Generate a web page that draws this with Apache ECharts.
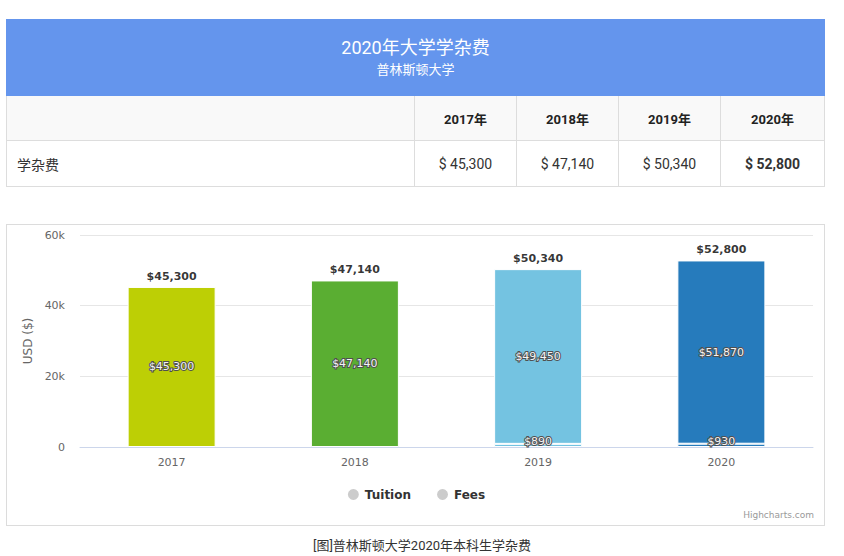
<!DOCTYPE html>
<html>
<head>
<meta charset="utf-8">
<script src="https://cdn.jsdelivr.net/npm/echarts@6/dist/echarts.min.js"></script>
<style>
  html, body { margin:0; padding:0; background:#fff; width:844px; height:556px; overflow:hidden;
    font-family: Roboto, "Noto Sans CJK SC", sans-serif; }
  #tbl { position:absolute; left:6px; top:19px; width:818px; border-collapse:collapse; table-layout:fixed;
    font-family: Roboto, "Noto Sans CJK SC", sans-serif; color:#222; }
  #tbl td, #tbl th { border:1px solid #dddddd; padding:0; }
  #tbl .head { background:#6495ed; color:#fff; text-align:center; height:75px; border-color:#6495ed; }
  #tbl .t1 { font-size:18px; line-height:24px; }
  #tbl .t2 { font-size:13px; line-height:20px; }
  #tbl .hrow th { background:#f9f9f9; height:44px; font-size:13px; font-weight:bold; text-align:center; color:#222; }
  #tbl .drow td { height:45px; font-size:14px; text-align:center; color:#333; }
  #tbl .drow td.first { text-align:left; padding-left:10px; }
  #chartBox { position:absolute; left:6px; top:224px; width:819px; height:302px; box-sizing:border-box; border:1px solid #dcdcdc; }
  #chart { width:817px; height:300px; }
  #caption { position:absolute; left:0; top:535px; width:844px; text-align:center; font-size:13px; color:#333;
    font-family: Roboto, "Noto Sans CJK SC", sans-serif; }
</style>
</head>
<body>
<table id="tbl">
  <colgroup><col style="width:408px"><col style="width:102px"><col style="width:102px"><col style="width:102px"><col style="width:104px"></colgroup>
  <tr><td class="head" colspan="5"><div class="t1" id="tTitle"></div><div class="t2" id="tSub"></div></td></tr>
  <tr class="hrow" id="hrow"><th></th></tr>
  <tr class="drow" id="drow"><td class="first" id="rowName"></td></tr>
</table>
<div id="chartBox"><div id="chart"></div></div>
<div id="caption"></div>
<script>
// ---- data ----
const tableTitle = '2020年大学学杂费';
const tableSubtitle = '普林斯顿大学';
const tableYears = ['2017年', '2018年', '2019年', '2020年'];
const tableRowName = '学杂费';
const tableValues = ['$ 45,300', '$ 47,140', '$ 50,340', '$ 52,800'];
const categories = ['2017', '2018', '2019', '2020'];
const tuition = [45300, 47140, 49450, 51870];
const fees = [null, null, 890, 930];
const totals = [45300, 47140, 50340, 52800];
const barColors = ['#bdcf05', '#5aae32', '#74c3e1', '#267bbc'];
const yTicks = [0, 20000, 40000, 60000];
const captionText = '[图]普林斯顿大学2020年本科生学杂费';

// ---- table ----
document.getElementById('tTitle').textContent = tableTitle;
document.getElementById('tSub').textContent = tableSubtitle;
document.getElementById('rowName').textContent = tableRowName;
const hrow = document.getElementById('hrow');
const drow = document.getElementById('drow');
tableYears.forEach((y, i) => {
  const th = document.createElement('th'); th.textContent = y; hrow.appendChild(th);
  const td = document.createElement('td'); td.textContent = tableValues[i];
  if (i === tableValues.length - 1) td.style.fontWeight = 'bold';
  drow.appendChild(td);
});
document.getElementById('caption').textContent = captionText;

// ---- chart ----
const fmt = v => '$' + v.toLocaleString('en-US');
const FONT = '"DejaVu Sans", sans-serif';
const insideLabel = {
  show: true, fontFamily: FONT, fontSize: 11, color: '#f4f4f4',
  textBorderColor: '#505050', textBorderWidth: 2,
  formatter: p => (p.value ? fmt(p.value) : '')
};
const chart = echarts.init(document.getElementById('chart'), null, { renderer: 'svg' });
chart.setOption({
  animation: false,
  grid: { left: 73, right: 11, top: 10, bottom: 78 },
  legend: {
    bottom: 18, left: 'center', icon: 'circle', itemWidth: 13, itemHeight: 13, itemGap: 24,
    textStyle: { fontFamily: FONT, fontSize: 12, fontWeight: 'bold', color: '#333' },
    data: [
      { name: 'Tuition', itemStyle: { color: '#cccccc' } },
      { name: 'Fees', itemStyle: { color: '#cccccc' } }
    ]
  },
  xAxis: {
    type: 'category', data: categories,
    axisLine: { lineStyle: { color: '#ccd6eb' } },
    axisTick: { show: false },
    axisLabel: { color: '#666', fontFamily: FONT, fontSize: 11, margin: 10 }
  },
  yAxis: {
    type: 'value', min: yTicks[0], max: yTicks[yTicks.length - 1], interval: yTicks[1] - yTicks[0],
    name: 'USD ($)', nameLocation: 'middle', nameGap: 45, nameRotate: 90,
    nameTextStyle: { color: '#666', fontFamily: FONT, fontSize: 12 },
    axisLine: { show: false }, axisTick: { show: false },
    axisLabel: { color: '#666', fontFamily: FONT, fontSize: 11, margin: 15,
      formatter: v => (v === 0 ? '0' : (v / 1000) + 'k') },
    splitLine: { lineStyle: { color: '#e6e6e6' } }
  },
  series: [
    {
      name: 'Fees', type: 'bar', stack: 'total', barWidth: 88,
      data: fees.map((v, i) => ({ value: v, itemStyle: { color: barColors[i] } })),
      itemStyle: { borderColor: '#fff', borderWidth: 1, color: '#cccccc' },
      label: Object.assign({}, insideLabel, { position: 'insideBottom', distance: 0 })
    },
    {
      name: 'Tuition', type: 'bar', stack: 'total', barWidth: 88,
      data: tuition.map((v, i) => ({ value: v, itemStyle: { color: barColors[i] } })),
      itemStyle: { borderColor: '#fff', borderWidth: 1, color: '#cccccc' },
      label: Object.assign({}, insideLabel, { position: 'inside' })
    },
    {
      name: 'Total', type: 'scatter', symbolSize: 0, silent: true,
      data: totals,
      label: { show: true, position: 'top', distance: 5, fontFamily: FONT, fontSize: 11,
        fontWeight: 'bold', color: '#000', formatter: p => fmt(p.value) }
    }
  ],
  graphic: [{
    type: 'text', right: 10, bottom: 6,
    style: { text: 'Highcharts.com', fontFamily: FONT, fontSize: 9, fill: '#999' }
  }]
});
</script>
</body>
</html>
